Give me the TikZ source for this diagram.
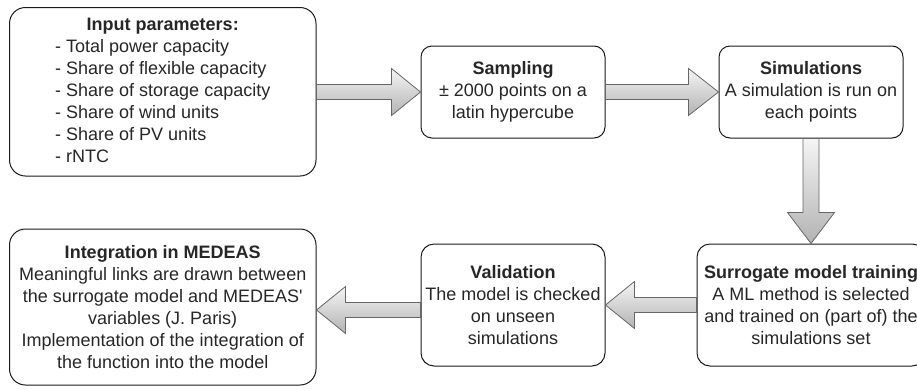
\documentclass[tikz,border=0pt]{standalone}
\usepackage{fontspec}
\newfontfamily\arialf{Liberation Sans}
\usetikzlibrary{calc}
\begin{document}
\begin{tikzpicture}[x=1pt,y=-1pt,
  box/.style={draw=black!90, line width=1pt, rounded corners=#1, align=center,
    inner sep=0pt, font=\arialf\fontsize{18}{22}\selectfont, text=black!85},
  blk/.style={draw=black!60, line width=0.8pt, top color=black!4, bottom color=black!30, line join=miter}]
\useasboundingbox (0,0) rectangle (917,389);

\node[box=16pt, minimum width=306.5pt, minimum height=168.5pt] (in) at (162.75,91.75)
  {\begin{tabular}{@{}l@{}}\multicolumn{1}{@{}c@{}}{\bfseries Input parameters:}\\
   - Total power capacity\\
   - Share of flexible capacity\\
   - Share of storage capacity\\
   - Share of wind units\\
   - Share of PV units\\
   - rNTC\end{tabular}};

\node[box=11pt, minimum width=184pt, minimum height=92pt] (samp) at (513,92)
  {\textbf{Sampling}\\± 2000 points on a\\latin hypercube};

\node[box=11pt, minimum width=184pt, minimum height=92pt] (sim) at (811,92)
  {\textbf{Simulations}\\A simulation is run on\\each points};

\node[box=13pt, minimum width=228pt, minimum height=122pt] (sur) at (811,305)
  {\textbf{Surrogate model training}\\A ML method is selected\\and trained on (part of) the\\simulations set};

\node[box=13pt, minimum width=184pt, minimum height=122pt] (val) at (513,305)
  {\textbf{Validation}\\The model is checked\\on unseen\\simulations};

\node[box=16pt, minimum width=306.5pt, minimum height=156pt] (int) at (162.75,307)
  {\textbf{Integration in MEDEAS}\\Meaningful links are drawn between\\the surrogate model and MEDEAS'\\variables (J. Paris)\\Implementation of the integration of\\the function into the model};

% block arrows
\path[blk] let \p1=(in.east), \p2=(samp.west) in
  (\x1,\y2+7.5pt) -- (\x2-29pt,\y2+7.5pt) -- (\x2-29pt,\y2+23.5pt) -- (\x2,\y2)
  -- (\x2-29pt,\y2-23.5pt) -- (\x2-29pt,\y2-7.5pt) -- (\x1,\y2-7.5pt) -- cycle;

\path[blk] let \p1=(samp.east), \p2=(sim.west) in
  (\x1,\y2+7.5pt) -- (\x2-30pt,\y2+7.5pt) -- (\x2-30pt,\y2+23.5pt) -- (\x2,\y2)
  -- (\x2-30pt,\y2-23.5pt) -- (\x2-30pt,\y2-7.5pt) -- (\x1,\y2-7.5pt) -- cycle;

\path[blk] let \p1=(sim.south), \p2=(sur.north) in
  (\x2-8pt,\y1) -- (\x2-8pt,\y2+31pt) -- (\x2-23.5pt,\y2+31pt) -- (\x2,\y2)
  -- (\x2+23.5pt,\y2+31pt) -- (\x2+8pt,\y2+31pt) -- (\x2+8pt,\y1) -- cycle;

\path[blk] let \p1=(sur.west), \p2=(val.east) in
  (\x1,\y2+7.5pt) -- (\x2+29pt,\y2+7.5pt) -- (\x2+29pt,\y2+23.5pt) -- (\x2,\y2)
  -- (\x2+29pt,\y2-23.5pt) -- (\x2+29pt,\y2-7.5pt) -- (\x1,\y2-7.5pt) -- cycle;

\path[blk] let \p1=(val.west), \p2=(int.east) in
  (\x1,\y2+4.5pt) -- (\x2+29pt,\y2+4.5pt) -- (\x2+29pt,\y2+20.5pt) -- (\x2,\y2-3pt)
  -- (\x2+29pt,\y2-26.5pt) -- (\x2+29pt,\y2-10.5pt) -- (\x1,\y2-10.5pt) -- cycle;
\end{tikzpicture}
\end{document}
